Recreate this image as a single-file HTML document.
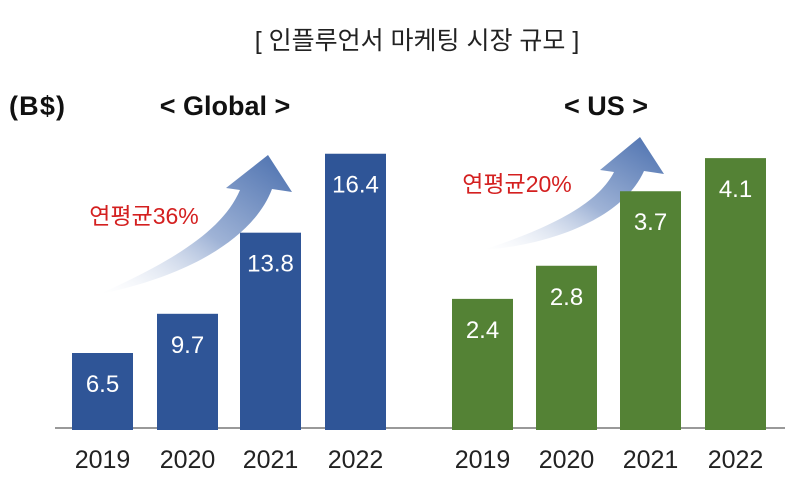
<!DOCTYPE html>
<html><head><meta charset="utf-8"><style>
body{margin:0;background:#fff;}
svg text{font-family:"Liberation Sans","Noto Sans CJK KR",sans-serif;}
</style></head><body>
<svg width="800" height="480" viewBox="0 0 800 480">
<defs>
<linearGradient id="ag" x1="0" y1="1" x2="1" y2="0">
<stop offset="0" stop-color="#ffffff" stop-opacity="0.2"/>
<stop offset="0.5" stop-color="#9fb3d6"/>
<stop offset="1" stop-color="#4a6fae"/>
</linearGradient>
</defs>
<text x="417" y="49" font-size="25" text-anchor="middle" fill="#222">[ 인플루언서 마케팅 시장 규모 ]</text>
<text x="9" y="115" font-size="27" font-weight="bold" fill="#111" textLength="56">(B$)</text>
<text x="225" y="115" font-size="27" font-weight="bold" fill="#111" text-anchor="middle">&lt; Global &gt;</text>
<text x="606" y="115" font-size="27" font-weight="bold" fill="#111" text-anchor="middle">&lt; US &gt;</text>
<line x1="55" y1="428" x2="785" y2="428" stroke="#999" stroke-width="2"/>
<path d="M100,294 C170,262 222,232 240,190 L226,188 L268,155 L292,192 L272,189 C252,242 180,278 100,294 Z" fill="url(#ag)"/>
<path d="M483,250 C550,228 598,204 614,172 L600,170 L640,137 L664,174 L644,171 C625,214 560,244 483,250 Z" fill="url(#ag)"/>
<text x="144" y="224" font-size="23" fill="#d42020" text-anchor="middle">연평균36%</text>
<text x="517" y="192" font-size="23" fill="#d42020" text-anchor="middle">연평균20%</text>
<g id="bars"></g>
</svg>
<script>
const years = ["2019","2020","2021","2022"];
const globalValues = [6.5, 9.7, 13.8, 16.4];
const usValues = [2.4, 2.8, 3.7, 4.1];
const base = 429;
function yGlobal(v){ return base - 76*Math.exp(0.13*(v-6.5)); }
function yUS(v){ return base - (82.8*v - 68.6); }
const g = document.getElementById('bars');
const ns = "http://www.w3.org/2000/svg";
function draw(vals, xs, yf, color, group){
  vals.forEach((v,i)=>{
    const top = yf(v);
    const r = document.createElementNS(ns,'rect');
    r.setAttribute('x', xs[i]); r.setAttribute('y', top);
    r.setAttribute('width', 61); r.setAttribute('height', base + 1 - top);
    r.setAttribute('fill', color);
    
    
    g.appendChild(r);
    const t = document.createElementNS(ns,'text');
    t.setAttribute('x', xs[i] + 30.5); t.setAttribute('y', top + 39);
    t.setAttribute('text-anchor','middle'); t.setAttribute('fill','#fff');
    t.setAttribute('font-size','24');
    t.textContent = v.toFixed(1);
    
    
    g.appendChild(t);
    const yl = document.createElementNS(ns,'text');
    yl.setAttribute('x', xs[i] + 30.5); yl.setAttribute('y', 468);
    yl.setAttribute('text-anchor','middle'); yl.setAttribute('fill','#222');
    yl.setAttribute('font-size','25');
    yl.textContent = years[i];
    
    
    g.appendChild(yl);
  });
}
draw(globalValues, [72,157,240,325], yGlobal, '#2f5597', 'global');
draw(usValues, [452,536,620,705], yUS, '#548235', 'us');
</script>
</body></html>
